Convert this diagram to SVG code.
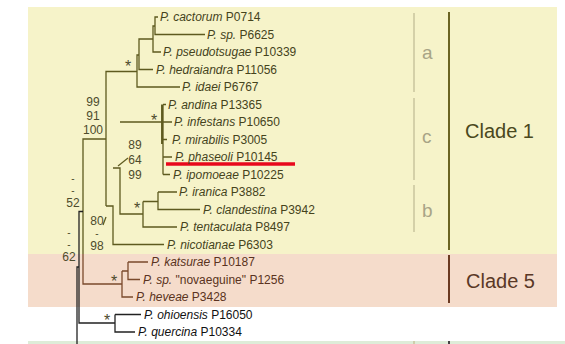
<svg xmlns="http://www.w3.org/2000/svg" width="565" height="344" viewBox="0 0 565 344">
<defs>
<style>
text{font-family:"Liberation Sans",Arial,sans-serif;}
.t{font-size:12px;}
.c1{fill:#45431c;}
.c5{fill:#5a3320;}
.c0{fill:#111;}
.i{font-style:italic;}
.num{font-size:12px;fill:#4d4b2c;text-anchor:middle;}
.dash{font-size:10px;fill:#4d4b2c;text-anchor:middle;}
.ast{font-size:16px;fill:#4d4b2c;text-anchor:middle;}
.e1{stroke:#5e5a1f;stroke-width:1.3;fill:none;}
.e5{stroke:#7a4a2c;stroke-width:1.3;fill:none;}
.e0{stroke:#222;stroke-width:1.3;fill:none;}
.br{stroke:#c9c59c;stroke-width:1.5;}
.bl{font-size:19px;fill:#a8a486;}
.cl{font-size:20px;}
</style>
<filter id="sh" x="-10%" y="-100%" width="120%" height="400%"><feGaussianBlur stdDeviation="1.5"/></filter>
</defs>
<g id="background">
<rect x="28" y="7" width="529" height="247" fill="#f6f3c9"/>
<rect x="28" y="254" width="529" height="53" fill="#f5dccb"/>
<rect x="28" y="341" width="537" height="3" fill="#deecd8"/>
</g>
<g id="connectors">
<path class="e1" d="M158,17H155V34.5H205M155,26H153V52H161M153,39H139V69.5H153M139,55H137V87H180M137,71.5H106V206M106,206H113V244.5H164M113,168H120V214H143M120,122H163M163,104.5V174.5M161.7,104.5V144M163,104.5H166M163,122H172M163,139.5H167M163,157H172M163,174.5H170M143,201.5V227H177M143,201.5H158M158,192V209.5H200M158,192H177M106,139H83V254"/>
<path class="e5" d="M83,254V284H122M122,271V297H133M122,271H128M128,262V279.5H140M128,262H148"/>
<path class="e0" d="M83,211.5H79V323H115M115,314.5V332H135M115,314.5H141M79,267H77V344"/>
<line class="e1" x1="118" y1="166" x2="128" y2="158"/>
<line class="e1" x1="103" y1="225" x2="106" y2="217"/>
</g>
<g id="support">
<text class="num" x="93" y="106">99</text>
<text class="num" x="93" y="120">91</text>
<text class="num" x="93" y="134">100</text>
<text class="num" x="135" y="149">89</text>
<text class="num" x="135" y="164">64</text>
<text class="num" x="135" y="179">99</text>
<text class="dash" x="73" y="182">-</text>
<text class="dash" x="73" y="194">-</text>
<text class="num" x="73" y="207.3">52</text>
<text class="num" x="97" y="225">80</text>
<text class="dash" x="97" y="237">-</text>
<text class="num" x="97" y="250">98</text>
<text class="dash" x="69" y="236">-</text>
<text class="dash" x="69" y="248">-</text>
<text class="num" x="69" y="261">62</text>
<text class="ast" x="128" y="72">*</text>
<text class="ast" x="154" y="126">*</text>
<text class="ast" x="137" y="214">*</text>
<text class="ast" x="114" y="287">*</text>
<text class="ast" x="107" y="326">*</text>
</g>
<g id="highlight">
<line x1="170" y1="167.5" x2="300" y2="167.5" stroke="#777" stroke-width="3" opacity="0.6" filter="url(#sh)"/>
<line x1="166" y1="164" x2="295" y2="164" stroke="#e8081c" stroke-width="3.5"/>
</g>
<g id="n1"><text class="t c1" x="160" y="21"><tspan class="i">P. cactorum</tspan> P0714</text></g>
<g id="n2"><text class="t c1" x="207" y="38.5"><tspan class="i">P. sp.</tspan> P6625</text></g>
<g id="n3"><text class="t c1" x="163" y="56"><tspan class="i">P. pseudotsugae</tspan> P10339</text></g>
<g id="n4"><text class="t c1" x="156" y="73.5"><tspan class="i">P. hedraiandra</tspan> P11056</text></g>
<g id="n5"><text class="t c1" x="182" y="91"><tspan class="i">P. idaei</tspan> P6767</text></g>
<g id="n6"><text class="t c1" x="168" y="108.5"><tspan class="i">P. andina</tspan> P13365</text></g>
<g id="n7"><text class="t c1" x="174" y="126"><tspan class="i">P. infestans</tspan> P10650</text></g>
<g id="n8"><text class="t c1" x="172" y="143.5"><tspan class="i">P. mirabilis</tspan> P3005</text></g>
<g id="n9"><text class="t c1" x="175" y="161"><tspan class="i">P. phaseoli</tspan> P10145</text></g>
<g id="n10"><text class="t c1" x="173" y="178.5"><tspan class="i">P. ipomoeae</tspan> P10225</text></g>
<g id="n11"><text class="t c1" x="179" y="196"><tspan class="i">P. iranica</tspan> P3882</text></g>
<g id="n12"><text class="t c1" x="203" y="213.5"><tspan class="i">P. clandestina</tspan> P3942</text></g>
<g id="n13"><text class="t c1" x="180" y="231"><tspan class="i">P. tentaculata</tspan> P8497</text></g>
<g id="n14"><text class="t c1" x="167" y="248.5"><tspan class="i">P. nicotianae</tspan> P6303</text></g>
<g id="n15"><text class="t c5" x="151" y="266"><tspan class="i">P. katsurae</tspan> P10187</text></g>
<g id="n16"><text class="t c5" x="143" y="283.5"><tspan class="i">P. sp.</tspan> "novaeguine" P1256</text></g>
<g id="n17"><text class="t c5" x="136" y="301"><tspan class="i">P. heveae</tspan> P3428</text></g>
<g id="n18"><text class="t c0" x="144" y="318.5"><tspan class="i">P. ohioensis</tspan> P16050</text></g>
<g id="n19"><text class="t c0" x="138" y="336"><tspan class="i">P. quercina</tspan> P10334</text></g>
<g id="subclades">
<line class="br" x1="414" y1="13" x2="414" y2="92"/>
<line class="br" x1="414" y1="98" x2="414" y2="180"/>
<line class="br" x1="414" y1="185" x2="414" y2="232"/>
<line class="br" x1="414" y1="341" x2="414" y2="344"/>
<text class="bl" x="422" y="59">a</text>
<text class="bl" x="422" y="143">c</text>
<text class="bl" x="422" y="217">b</text>
</g>
<g id="clade1">
<line x1="449" y1="12" x2="449" y2="250" stroke="#6b6422" stroke-width="2"/>
<text class="cl" x="465" y="138" fill="#4a4820">Clade 1</text>
</g>
<g id="clade5">
<line x1="449" y1="255" x2="449" y2="303" stroke="#6b3a22" stroke-width="2"/>
<text class="cl" x="466" y="288" fill="#5a3826">Clade 5</text>
</g>
<line x1="449" y1="341" x2="449" y2="344" stroke="#444" stroke-width="2"/>
</svg>
